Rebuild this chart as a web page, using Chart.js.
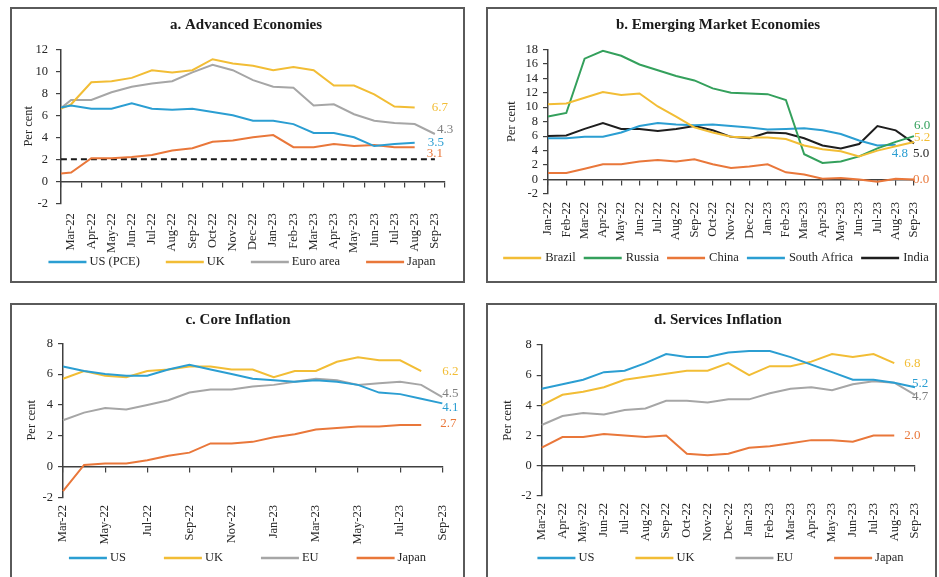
<!DOCTYPE html>
<html>
<head>
<meta charset="utf-8">
<script src="https://cdn.jsdelivr.net/npm/chart.js@4"></script>
<style>
  html, body { margin: 0; padding: 0; background: #fff; width: 939px; height: 577px; overflow: hidden; }
  .panel { position: absolute; }
  .panel canvas { position: absolute; left: 0; top: 0; }
  .frame { position: absolute; left: 0; top: 0; right: 0; bottom: 0; border: 2px solid #5a5a5a; pointer-events: none; }
</style>
</head>
<body>
<div class="panel" style="left:10px;top:7px;width:455px;height:276px"><canvas id="chartA"></canvas><div class="frame"></div></div>
<div class="panel" style="left:486px;top:7px;width:451px;height:276px"><canvas id="chartB"></canvas><div class="frame"></div></div>
<div class="panel" style="left:10px;top:303px;width:455px;height:280px"><canvas id="chartC"></canvas><div class="frame"></div></div>
<div class="panel" style="left:486px;top:303px;width:451px;height:280px"><canvas id="chartD"></canvas><div class="frame"></div></div>
<script>
// a. Advanced Economies - headline inflation (Feb-22 only feeds the clipped stub at the axis)
const monthsA = ['Feb-22', 'Mar-22', 'Apr-22', 'May-22', 'Jun-22', 'Jul-22', 'Aug-22', 'Sep-22', 'Oct-22', 'Nov-22',
  'Dec-22', 'Jan-23', 'Feb-23', 'Mar-23', 'Apr-23', 'May-23', 'Jun-23', 'Jul-23', 'Aug-23', 'Sep-23'];
const aUsPce = [6.5, 6.9, 6.6, 6.6, 7.1, 6.6, 6.5, 6.6, 6.3, 6.0, 5.5, 5.5, 5.2, 4.4, 4.4, 4.0, 3.2, 3.4, 3.5, null];
const aUk = [6.2, 7.0, 9.0, 9.1, 9.4, 10.1, 9.9, 10.1, 11.1, 10.7, 10.5, 10.1, 10.4, 10.1, 8.7, 8.7, 7.9, 6.8, 6.7, null];
const aEuro = [5.9, 7.4, 7.4, 8.1, 8.6, 8.9, 9.1, 9.9, 10.6, 10.1, 9.2, 8.6, 8.5, 6.9, 7.0, 6.1, 5.5, 5.3, 5.2, 4.3];
const aJapan = [0.6, 0.8, 2.1, 2.1, 2.2, 2.4, 2.8, 3.0, 3.6, 3.7, 4.0, 4.2, 3.1, 3.1, 3.4, 3.2, 3.3, 3.1, 3.1, null];
const aTarget = [2, 2, 2, 2, 2, 2, 2, 2, 2, 2, 2, 2, 2, 2, 2, 2, 2, 2, 2, 2];

// b. Emerging Market Economies
const monthsB = ['Jan-22', 'Feb-22', 'Mar-22', 'Apr-22', 'May-22', 'Jun-22', 'Jul-22', 'Aug-22', 'Sep-22', 'Oct-22',
  'Nov-22', 'Dec-22', 'Jan-23', 'Feb-23', 'Mar-23', 'Apr-23', 'May-23', 'Jun-23', 'Jul-23', 'Aug-23', 'Sep-23'];
const bBrazil = [10.4, 10.5, 11.3, 12.1, 11.7, 11.9, 10.1, 8.7, 7.2, 6.5, 5.9, 5.8, 5.8, 5.6, 4.7, 4.2, 3.9, 3.2, 4.0, 4.6, 5.2];
const bRussia = [8.7, 9.2, 16.7, 17.8, 17.1, 15.9, 15.1, 14.3, 13.7, 12.6, 12.0, 11.9, 11.8, 11.0, 3.5, 2.3, 2.5, 3.2, 4.3, 5.2, 6.0];
const bChina = [0.9, 0.9, 1.5, 2.1, 2.1, 2.5, 2.7, 2.5, 2.8, 2.1, 1.6, 1.8, 2.1, 1.0, 0.7, 0.1, 0.2, 0.0, -0.3, 0.1, 0.0];
const bSouthAfrica = [5.7, 5.7, 5.9, 5.9, 6.5, 7.4, 7.8, 7.6, 7.5, 7.6, 7.4, 7.2, 6.9, 7.0, 7.1, 6.8, 6.3, 5.4, 4.7, 4.8, null];
const bIndia = [6.0, 6.1, 7.0, 7.8, 7.0, 7.0, 6.7, 7.0, 7.4, 6.8, 5.9, 5.7, 6.5, 6.4, 5.7, 4.7, 4.3, 4.9, 7.4, 6.8, 5.0];

// c. Core Inflation and d. Services Inflation share the same months
const monthsCD = ['Mar-22', 'Apr-22', 'May-22', 'Jun-22', 'Jul-22', 'Aug-22', 'Sep-22', 'Oct-22', 'Nov-22', 'Dec-22',
  'Jan-23', 'Feb-23', 'Mar-23', 'Apr-23', 'May-23', 'Jun-23', 'Jul-23', 'Aug-23', 'Sep-23'];
const cUs = [6.5, 6.2, 6.0, 5.9, 5.9, 6.3, 6.6, 6.3, 6.0, 5.7, 5.6, 5.5, 5.6, 5.5, 5.3, 4.8, 4.7, 4.4, 4.1];
const cUk = [5.7, 6.2, 5.9, 5.8, 6.2, 6.3, 6.5, 6.5, 6.3, 6.3, 5.8, 6.2, 6.2, 6.8, 7.1, 6.9, 6.9, 6.2, null];
const cEu = [3.0, 3.5, 3.8, 3.7, 4.0, 4.3, 4.8, 5.0, 5.0, 5.2, 5.3, 5.5, 5.7, 5.6, 5.3, 5.4, 5.5, 5.3, 4.5];
const cJapan = [-1.6, 0.1, 0.2, 0.2, 0.4, 0.7, 0.9, 1.5, 1.5, 1.6, 1.9, 2.1, 2.4, 2.5, 2.6, 2.6, 2.7, 2.7, null];

const dUs = [5.1, 5.4, 5.7, 6.2, 6.3, 6.8, 7.4, 7.2, 7.2, 7.5, 7.6, 7.6, 7.2, 6.7, 6.2, 5.7, 5.7, 5.5, 5.2];
const dUk = [4.0, 4.7, 4.9, 5.2, 5.7, 5.9, 6.1, 6.3, 6.3, 6.8, 6.0, 6.6, 6.6, 6.9, 7.4, 7.2, 7.4, 6.8, null];
const dEu = [2.7, 3.3, 3.5, 3.4, 3.7, 3.8, 4.3, 4.3, 4.2, 4.4, 4.4, 4.8, 5.1, 5.2, 5.0, 5.4, 5.6, 5.5, 4.7];
const dJapan = [1.2, 1.9, 1.9, 2.1, 2.0, 1.9, 2.0, 0.8, 0.7, 0.8, 1.2, 1.3, 1.5, 1.7, 1.7, 1.6, 2.0, 2.0, null];

const SERIF = "'Liberation Serif', 'DejaVu Serif', serif";
const INK = '#262626';
const AXIS = '#404040';
const BLUE = '#2b9ed2', GOLD = '#f2bd35', GREY = '#a6a6a6', ORANGE = '#e9773a', GREEN = '#34a05c', BLACK = '#1e1e1e';
const GREY_TXT = '#7f7f7f';

// writes the last value of each series next to its line end
const endLabels = {
  id: 'endLabels',
  afterDatasetsDraw(chart, args, opts) {
    const ctx = chart.ctx;
    const xs = chart.scales.x, ys = chart.scales.y;
    ctx.save();
    ctx.font = '13px ' + SERIF;
    ctx.textAlign = 'left';
    ctx.textBaseline = 'middle';
    chart.data.datasets.forEach((ds, i) => {
      const e = opts.ends[i];
      if (!e) return;
      let k = ds.data.length - 1;
      while (k > 0 && ds.data[k] === null) k--;
      const v = ds.data[k];
      ctx.fillStyle = e[2];
      ctx.fillText(v.toFixed(1), xs.getPixelForValue(k) + e[0], ys.getPixelForValue(v) + e[1]);
    });
    ctx.restore();
  }
};

// one-row legend with long line keys, centred where the original had it
const lineLegend = {
  id: 'lineLegend',
  afterDraw(chart, args, o) {
    const ctx = chart.ctx;
    ctx.save();
    ctx.font = '12.5px ' + SERIF;
    ctx.textBaseline = 'middle';
    ctx.textAlign = 'left';
    const items = chart.data.datasets.filter(ds => ds.label !== '');
    const widths = items.map(ds => o.line + o.textGap + ctx.measureText(ds.label).width);
    const total = widths.reduce((a, b) => a + b, 0) + o.gap * (items.length - 1);
    let x = o.cx - total / 2;
    items.forEach((ds, i) => {
      ctx.strokeStyle = ds.borderColor;
      ctx.lineWidth = 2.5;
      ctx.beginPath();
      ctx.moveTo(x, o.cy);
      ctx.lineTo(x + o.line, o.cy);
      ctx.stroke();
      ctx.fillStyle = INK;
      ctx.fillText(ds.label, x + o.line + o.textGap, o.cy);
      x += widths[i] + o.gap;
    });
    ctx.restore();
  }
};

// nudge the title sideways without touching the plot area
const shiftTitle = {
  id: 'shiftTitle',
  afterLayout(chart, args, opts) {
    if (chart.titleBlock && opts.dx) { chart.titleBlock.left += opts.dx; chart.titleBlock.right += opts.dx; }
  }
};

function xAxis(p, zeroLine) {
  const ax = {
    type: 'category',
    offset: p.between,
    min: p.min,
    afterBuildTicks: p.every2 ? s => { s.ticks = s.ticks.filter((t, i) => i % 2 === 0); } : undefined
  };
  if (zeroLine) {
    ax.position = { y: 0 };
    ax.border = { display: true, color: AXIS, width: 1.5 };
    ax.grid = { drawOnChartArea: false, drawTicks: true, tickLength: 5, color: AXIS, lineWidth: 1.2, offset: p.between };
    ax.ticks = { display: false };
  } else {
    ax.position = 'bottom';
    ax.border = { display: false };
    ax.grid = { display: false, drawTicks: false };
    ax.ticks = { autoSkip: false, minRotation: 90, maxRotation: 90, padding: p.xPad, color: INK, font: { family: SERIF, size: 12.5 } };
    ax.afterFit = s => { s.height = 52; };
  }
  return ax;
}

function makeChart(id, labels, series, p) {
  return new Chart(document.getElementById(id), {
    type: 'line',
    data: {
      labels: labels,
      datasets: series.map(s => ({
        label: s.name,
        data: s.data,
        borderColor: s.color,
        backgroundColor: s.color,
        borderWidth: 2,
        borderDash: s.dash || [],
        pointRadius: 0,
        pointHoverRadius: 0,
        tension: 0,
        fill: false,
        xAxisID: 'x'
      }))
    },
    options: {
      responsive: true,
      maintainAspectRatio: false,
      animation: false,
      events: [],
      layout: { padding: { left: 0, top: 0, right: p.padR, bottom: p.padB } },
      plugins: {
        title: {
          display: true, text: p.title, color: '#1a1a1a',
          font: { family: SERIF, size: 15, weight: 'bold' },
          padding: { top: p.titleTop, bottom: p.titleBottom }
        },
        legend: { display: false },
        tooltip: { enabled: false },
        endLabels: { ends: p.ends },
        lineLegend: p.legend,
        shiftTitle: { dx: p.titleShift }
      },
      scales: {
        x: xAxis(p, false),
        x0: xAxis(p, true),
        y: {
          min: p.yMin, max: p.yMax,
          ticks: { stepSize: 2, autoSkip: false, padding: p.yTickPad, color: INK, font: { family: SERIF, size: 12.5 } },
          border: { display: true, color: AXIS, width: 1.5 },
          grid: { drawOnChartArea: false, drawTicks: true, tickLength: 5, color: AXIS, lineWidth: 1.2 },
          title: { display: true, text: 'Per cent', color: INK, font: { family: SERIF, size: 12.5 }, padding: { top: p.yTitlePad, bottom: 0 } },
          afterFit: s => { s.width = p.yW; }
        }
      }
    },
    plugins: [endLabels, lineLegend, shiftTitle]
  });
}

makeChart('chartA', monthsA, [
  { name: 'US (PCE)', data: aUsPce, color: BLUE },
  { name: 'UK', data: aUk, color: GOLD },
  { name: 'Euro area', data: aEuro, color: GREY },
  { name: 'Japan', data: aJapan, color: ORANGE },
  { name: '', data: aTarget, color: '#1a1a1a', dash: [6, 4] }
], {
  title: 'a. Advanced Economies', between: true, min: 'Mar-22', yMin: -2, yMax: 12,
  padR: 20, padB: 27.7, titleTop: 9, titleBottom: 15.3, titleShift: 18.5,
  yW: 51, yTickPad: 8, yTitlePad: 10.8, xPad: 10,
  legend: { cx: 232, cy: 255, gap: 26, line: 38, textGap: 3 },
  ends: [[13, 0, BLUE], [17, 0, GOLD], [2, -4, GREY_TXT], [12, 6, ORANGE], null]
});

makeChart('chartB', monthsB, [
  { name: 'Brazil', data: bBrazil, color: GOLD },
  { name: 'Russia', data: bRussia, color: GREEN },
  { name: 'China', data: bChina, color: ORANGE },
  { name: 'South Africa', data: bSouthAfrica, color: BLUE },
  { name: 'India', data: bIndia, color: BLACK }
], {
  title: 'b. Emerging Market Economies', between: false, yMin: -2, yMax: 18,
  padR: 22, padB: 37, titleTop: 9, titleBottom: 15.3, titleShift: 17.5,
  yW: 62, yTickPad: 5, yTitlePad: 18.2, xPad: 8,
  legend: { cx: 230, cy: 251, gap: 8, line: 38, textGap: 4 },
  ends: [[0, -4, GOLD], [0, -11, GREEN], [-1, 0, ORANGE], [-4, 9, BLUE], [-1, 10, BLACK]]
});

makeChart('chartC', monthsCD, [
  { name: 'US', data: cUs, color: BLUE },
  { name: 'UK', data: cUk, color: GOLD },
  { name: 'EU', data: cEu, color: GREY },
  { name: 'Japan', data: cJapan, color: ORANGE }
], {
  title: 'c. Core Inflation', between: false, every2: true, yMin: -2, yMax: 8,
  padR: 22, padB: 33.7, titleTop: 8, titleBottom: 14.3, titleShift: 11.5,
  yW: 53, yTickPad: 5, yTitlePad: 14.2, xPad: 7.7,
  legend: { cx: 237.5, cy: 255, gap: 38, line: 38, textGap: 3 },
  ends: [[0, 4, BLUE], [21, 1, GOLD], [0, -4, GREY_TXT], [19, -1, ORANGE]]
});

makeChart('chartD', monthsCD, [
  { name: 'US', data: dUs, color: BLUE },
  { name: 'UK', data: dUk, color: GOLD },
  { name: 'EU', data: dEu, color: GREY },
  { name: 'Japan', data: dJapan, color: ORANGE }
], {
  title: 'd. Services Inflation', between: false, yMin: -2, yMax: 8,
  padR: 21.5, padB: 35, titleTop: 8, titleBottom: 16, titleShift: 17.25,
  yW: 55.7, yTickPad: 5, yTitlePad: 14.5, xPad: 7,
  legend: { cx: 234.5, cy: 255, gap: 41, line: 38, textGap: 3 },
  ends: [[-3, -4, BLUE], [10, 0, GOLD], [-3, 2, GREY_TXT], [10, 0, ORANGE]]
});
</script>
</body>
</html>
